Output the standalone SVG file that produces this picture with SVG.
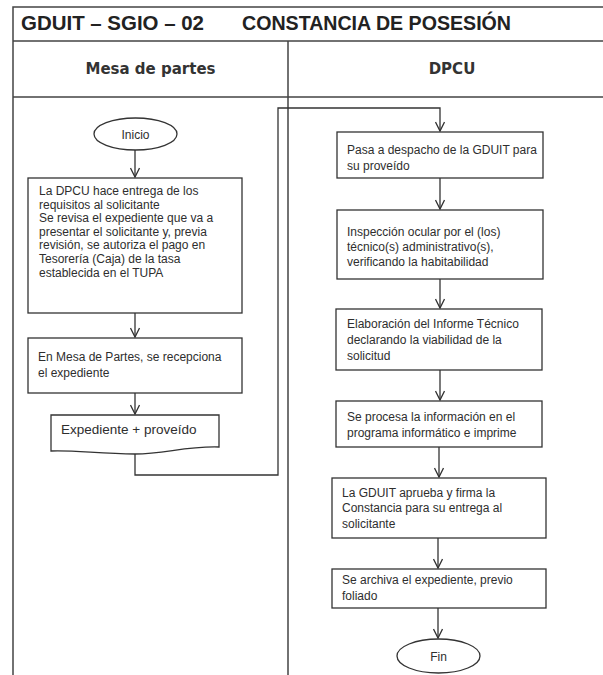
<svg xmlns="http://www.w3.org/2000/svg" width="603" height="675" viewBox="0 0 603 675">
<style>
.frame{stroke:#444;stroke-width:1.5;fill:none}
.box{fill:#fff;stroke:#333;stroke-width:1.3}
.conn{fill:none;stroke:#333;stroke-width:1.3}
.t{font-family:"Liberation Sans",Arial,sans-serif;font-size:12px;fill:#2e2e2e}
.title{font-family:"Liberation Sans",Arial,sans-serif;font-size:21px;font-weight:bold;fill:#222}
.hdr{font-family:"DejaVu Sans",Verdana,sans-serif;font-size:15px;font-weight:bold;fill:#333;text-anchor:middle}
</style>
<defs>
<marker id="arr" viewBox="0 0 12 10" refX="10" refY="5" markerWidth="12" markerHeight="10" markerUnits="userSpaceOnUse" orient="auto">
<path d="M1,0.5 L10,5 L1,9.5" fill="none" stroke="#333" stroke-width="1.3"/>
</marker>
</defs>
<rect width="603" height="675" fill="#fff"/>
<g id="frame">
<path class="frame" d="M13,675 V7 H603 M13,41 H603 M13,97 H603 M288,41 V675"/>
<text class="title" x="21" y="30" textLength="183" lengthAdjust="spacingAndGlyphs">GDUIT – SGIO – 02</text>
<text class="title" x="242" y="30" textLength="269" lengthAdjust="spacingAndGlyphs">CONSTANCIA DE POSESIÓN</text>
<text class="hdr" x="150.5" y="74">Mesa de partes</text>
<text class="hdr" x="452" y="74">DPCU</text>
</g>
<g id="connectors">
<path class="conn" d="M135,150 V177" marker-end="url(#arr)"/>
<path class="conn" d="M135,313 V337" marker-end="url(#arr)"/>
<path class="conn" d="M135,393 V414" marker-end="url(#arr)"/>
<path class="conn" d="M135,453 V475 H278 V108 H440 V131" marker-end="url(#arr)"/>
<path class="conn" d="M440,178 V209" marker-end="url(#arr)"/>
<path class="conn" d="M440,279 V308" marker-end="url(#arr)"/>
<path class="conn" d="M440,370 V400" marker-end="url(#arr)"/>
<path class="conn" d="M439,447 V477" marker-end="url(#arr)"/>
<path class="conn" d="M438,538 V568" marker-end="url(#arr)"/>
<path class="conn" d="M438,608 V638" marker-end="url(#arr)"/>
</g>
<g id="inicio">
<ellipse class="box" cx="135.5" cy="134" rx="41.5" ry="16"/>
<text class="t" x="135.5" y="139" text-anchor="middle">Inicio</text>
</g>
<g id="n1">
<rect class="box" x="28" y="178" width="214" height="135"/>
<text class="t" x="39" y="195">La DPCU hace entrega de los</text>
<text class="t" x="39" y="208.6">requisitos al solicitante</text>
<text class="t" x="39" y="222.2">Se revisa el expediente que va a</text>
<text class="t" x="39" y="235.8">presentar el solicitante  y, previa</text>
<text class="t" x="39" y="249.4">revisión, se autoriza el pago en</text>
<text class="t" x="39" y="263">Tesorería (Caja)  de la tasa</text>
<text class="t" x="39" y="276.6">establecida en el TUPA</text>
</g>
<g id="n2">
<rect class="box" x="28" y="338" width="214" height="55"/>
<text class="t" x="38" y="361">En Mesa de Partes, se recepciona</text>
<text class="t" x="38" y="377">el expediente</text>
</g>
<g id="doc">
<path class="box" d="M51,415 H219 V447 C185,446 165,454 135,454 C100,454 75,450 51,451 Z"/>
<text class="t" x="61" y="434" style="font-size:13.5px">Expediente + proveído</text>
</g>
<g id="n3">
<rect class="box" x="337" y="132" width="206" height="46"/>
<text class="t" x="347" y="154">Pasa a despacho de la GDUIT  para</text>
<text class="t" x="347" y="170">su proveído</text>
</g>
<g id="n4">
<rect class="box" x="337" y="210" width="206" height="69"/>
<text class="t" x="347" y="236">Inspección ocular por el (los)</text>
<text class="t" x="347" y="251">técnico(s) administrativo(s),</text>
<text class="t" x="347" y="266">verificando la habitabilidad</text>
</g>
<g id="n5">
<rect class="box" x="336" y="309" width="206" height="61"/>
<text class="t" x="347" y="328">Elaboración del Informe Técnico</text>
<text class="t" x="347" y="344">declarando la viabilidad de la</text>
<text class="t" x="347" y="360">solicitud</text>
</g>
<g id="n6">
<rect class="box" x="336" y="401" width="206" height="46"/>
<text class="t" x="347" y="421">Se procesa  la información en el</text>
<text class="t" x="347" y="437">programa informático  e imprime</text>
</g>
<g id="n7">
<rect class="box" x="332" y="478" width="214" height="60"/>
<text class="t" x="342" y="497">La GDUIT  aprueba y firma la</text>
<text class="t" x="342" y="512">Constancia para su  entrega al</text>
<text class="t" x="342" y="528">solicitante</text>
</g>
<g id="n8">
<rect class="box" x="332" y="569" width="214" height="39"/>
<text class="t" x="342" y="584">Se archiva el expediente, previo</text>
<text class="t" x="342" y="600">foliado</text>
</g>
<g id="fin">
<ellipse class="box" cx="438.5" cy="656" rx="41.5" ry="17"/>
<text class="t" x="438.5" y="661" text-anchor="middle">Fin</text>
</g>
</svg>
